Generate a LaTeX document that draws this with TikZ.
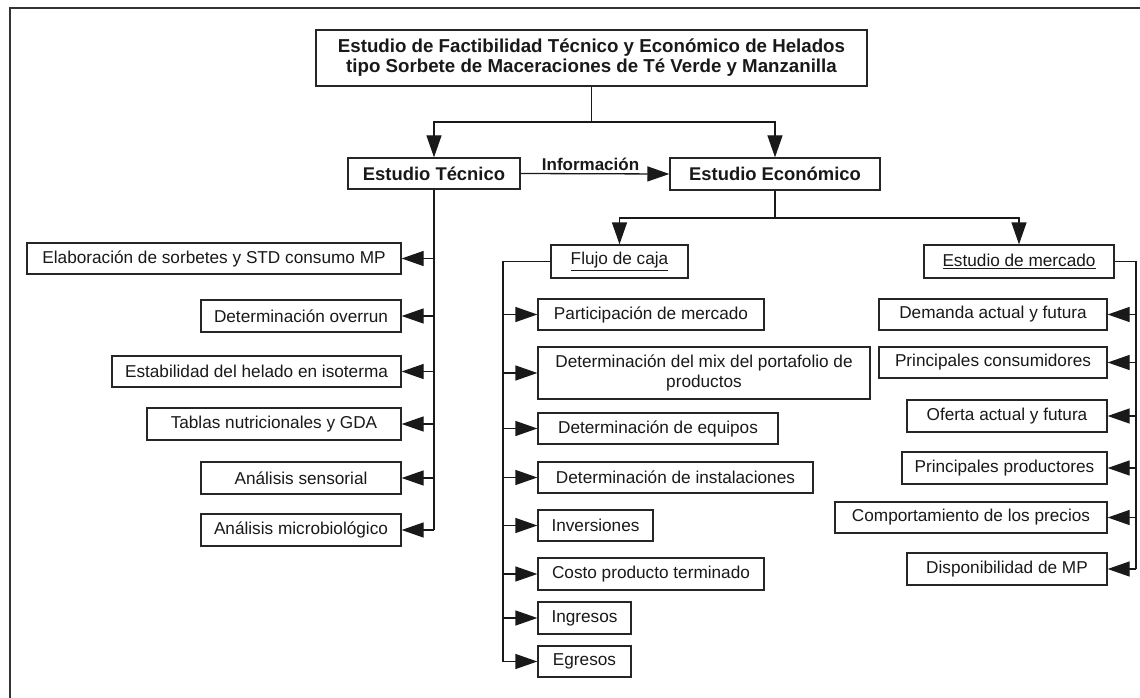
\documentclass[tikz,border=0pt]{standalone}
\usepackage{fontspec}
\setmainfont{Liberation Sans}
\usetikzlibrary{arrows.meta}

% box from its edges: name, left, top, right, bottom, style, text
\newcommand\mkbox[7]{%
  \node[#6, minimum width={(#4-#2)*1pt}, minimum height={(#5-#3)*1pt}]
    (#1) at ({(#2+#4)/2},{(#3+#5)/2}) {#7};}

\tikzset{
  box/.style={draw=black!85, line width=1.3pt, inner sep=0pt, align=center,
              text=black!90, font=\fontsize{17.2}{19.5}\selectfont},
  headbox/.style={box, font=\fontsize{18.4}{21}\selectfont\bfseries},
  titlebox/.style={box, font=\fontsize{18.7}{20}\selectfont\bfseries},
  link/.style={draw=black!90, line width=1.3pt},
  arr/.style={link, -{Triangle[length=22pt,width=15pt]}},
  frame/.style={draw=black!80, line width=1.3pt}
}

\begin{document}
\begin{tikzpicture}[x=1pt,y=-1pt]
\useasboundingbox (0,0) rectangle (1140,698);
\fill[white] (0,0) rectangle (1140,698);

% page frame
\draw[frame] (10,698) -- (10,8) -- (1140,8);

% top level
\mkbox{title}{316}{30}{867}{86}{titlebox}{Estudio de Factibilidad Técnico y Económico de Helados\\tipo Sorbete de Maceraciones de Té Verde y Manzanilla}
\mkbox{tecnico}{348}{158}{520}{189}{headbox}{Estudio Técnico}
\mkbox{econ}{670}{158}{880}{190}{headbox}{Estudio Económico}

\coordinate (tj) at (591.5,122);
\draw[link] (title.south) -- (tj);
\draw[arr] (tj) -| (tecnico.north);
\draw[arr] (tj) -| (econ.north);
\draw[arr] (tecnico.east) -- node[pos=0.47, above=-1pt, font=\fontsize{17}{19}\selectfont\bfseries, text=black!90] {Información} (econ.west);

% technical study
\mkbox{elab}{27}{243}{401}{274}{box}{Elaboración de sorbetes y STD consumo MP}
\mkbox{overrun}{201}{300}{401}{332}{box}{Determinación overrun}
\mkbox{estab}{112}{356}{401}{387}{box}{Estabilidad del helado en isoterma}
\mkbox{tablas}{147}{408}{401}{440}{box}{Tablas nutricionales y GDA}
\mkbox{sens}{201}{462}{401}{494}{box}{Análisis sensorial}
\mkbox{micro}{201}{514}{401}{546}{box}{Análisis microbiológico}

\draw[link] (tecnico.south) -- (tecnico.south |- micro.east);
\foreach \b in {elab,overrun,estab,tablas,sens,micro}
  \draw[arr] (tecnico.south |- \b.east) -- (\b.east);

% economic study
\mkbox{flujo}{551}{245}{688}{278}{box}{\underline{Flujo de caja}}
\mkbox{mercado}{924}{245}{1114}{278}{box}{\underline{Estudio de mercado}}

\coordinate (ej) at (775,218);
\draw[link] (econ.south) -- (ej);
\draw[arr] (ej) -| (flujo.north);
\draw[arr] (ej) -| (mercado.north);

% cash flow
\mkbox{partic}{538}{299}{764}{330}{box}{Participación de mercado}
\mkbox{mix}{538}{347}{870}{399}{box}{Determinación del mix del portafolio de\\productos}
\mkbox{equipos}{538}{413}{778}{444}{box}{Determinación de equipos}
\mkbox{instal}{538}{462}{813}{493}{box}{Determinación de instalaciones}
\mkbox{invers}{538}{510}{653}{541}{box}{Inversiones}
\mkbox{costo}{538}{558}{764}{590}{box}{Costo producto terminado}
\mkbox{ingresos}{538}{602}{631}{634}{box}{Ingresos}
\mkbox{egresos}{538}{646}{631}{677}{box}{Egresos}

\coordinate (fs) at (503,261.5);
\draw[link] (flujo.west) -- (fs) -- (fs |- egresos.west);
\foreach \b in {partic,mix,equipos,instal,invers,costo,ingresos,egresos}
  \draw[arr] (fs |- \b.west) -- (\b.west);

% market study
\mkbox{demanda}{879}{299}{1107}{330}{box}{Demanda actual y futura}
\mkbox{consum}{879}{347}{1107}{378}{box}{Principales consumidores}
\mkbox{oferta}{907}{400}{1107}{432}{box}{Oferta actual y futura}
\mkbox{produc}{902}{452}{1107}{484}{box}{Principales productores}
\mkbox{precios}{835}{502}{1107}{533}{box}{Comportamiento de los precios}
\mkbox{dispon}{907}{553}{1107}{585}{box}{Disponibilidad de MP}

\coordinate (ms) at (1136,261.5);
\draw[link] (mercado.east) -- (ms) -- (ms |- dispon.east);
\foreach \b in {demanda,consum,oferta,produc,precios,dispon}
  \draw[arr] (ms |- \b.east) -- (\b.east);
\end{tikzpicture}
\end{document}
